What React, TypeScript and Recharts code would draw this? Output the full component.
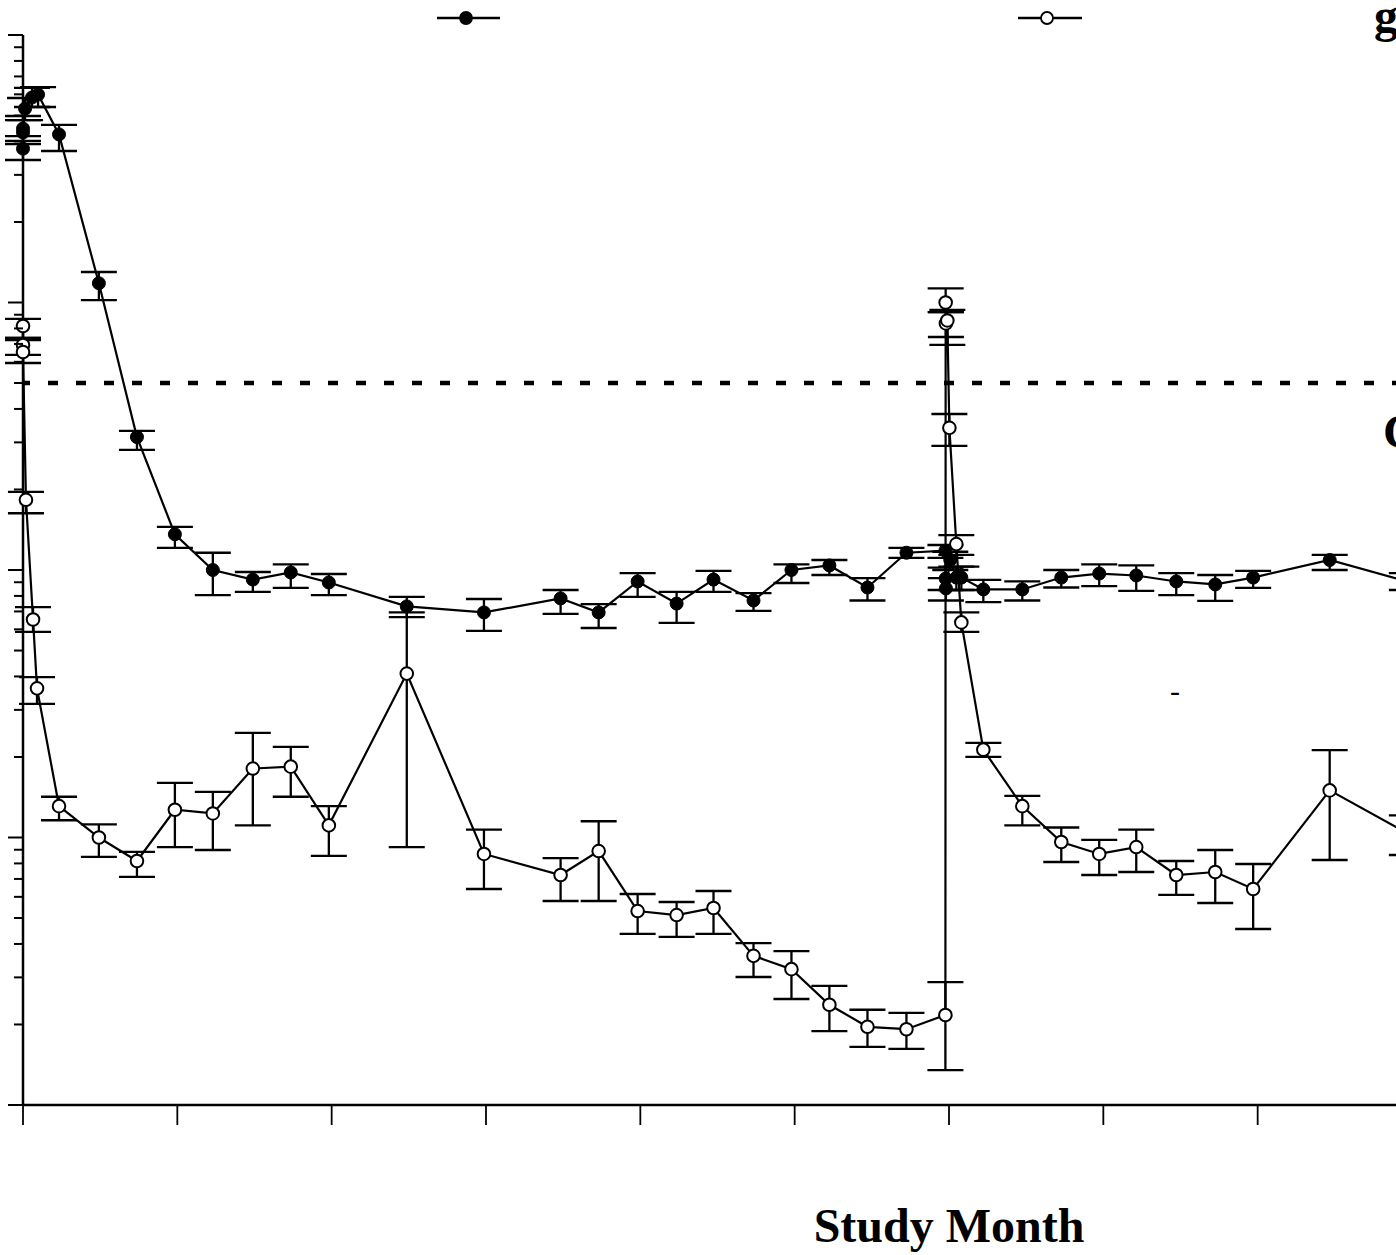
import React from 'react';
import { LineChart, Line, XAxis, YAxis, ErrorBar, ReferenceLine, Legend, Label } from 'recharts';

// ---- data (months, values, error-bar bounds) ----
const filledMonths = [0, 0, 0, 0.16, 0.7, 1.17, 2.8, 5.9, 8.86, 11.81, 14.76, 17.87, 20.82, 23.78, 29.84, 35.84, 41.8, 44.76, 47.79, 50.82, 53.69, 56.8, 59.75, 62.7, 65.66, 68.69, 71.72, 71.74, 71.76, 72.1, 72.57, 72.96, 74.67, 77.7, 80.73, 83.68, 86.56, 89.67, 92.7, 95.65, 101.6, 107.6];
const filledValues = [3760, 4320, 4470, 5310, 5840, 5990, 4250, 1180, 314, 136, 100, 92.1, 97.9, 89.8, 73.1, 69.4, 78.3, 69.4, 90.6, 74.9, 92.1, 76.9, 100, 104, 86.0, 116, 118, 92.9, 85.3, 109, 93.7, 93.7, 84.6, 84.6, 93.7, 97.0, 95.4, 90.6, 88.3, 93.7, 109, 90.6];
const filledLow = [3410, 3910, 4015, 4810, 5380, 5380, 3685, 1020, 281, 121, 80.6, 82.8, 85.7, 80.6, 66.7, 59.2, 68.5, 60.7, 79.3, 63.4, 82.8, 70.3, 89.4, 95.8, 76.9, 111, 111, 84.2, 76.9, 100, 84.2, 84.2, 75.9, 76.9, 86.0, 87.1, 83.5, 80.6, 76.6, 85.7, 100, 84.2];
const filledHigh = [4190, 4810, 4980, 5815, 6340, 6390, 4610, 1300, 331, 145, 116, 98.3, 105, 96.6, 79.3, 77.9, 84.2, 74.6, 97.4, 82.8, 99.2, 82.0, 105, 109, 93.3, 121, 124, 102, 93.3, 117, 103, 103, 91.8, 90.6, 100, 105, 104, 97.4, 95.8, 99.2, 114, 97.4];

const openMonths = [0, 0, 0, 0.23, 0.78, 1.09, 2.8, 5.9, 8.86, 11.81, 14.76, 17.87, 20.82, 23.78, 29.84, 35.84, 41.8, 44.76, 47.79, 50.82, 53.69, 56.8, 59.75, 62.7, 65.66, 68.69, 71.72, 71.74, 71.76, 71.87, 72.03, 72.57, 72.96, 74.67, 77.7, 80.73, 83.68, 86.56, 89.67, 92.7, 95.65, 101.6, 107.6];
const openValues = [817, 694, 653, 183, 65.3, 36.1, 13.1, 10.0, 8.17, 12.7, 12.3, 18.1, 18.4, 11.1, 41.0, 8.68, 7.24, 8.90, 5.31, 5.13, 5.45, 3.61, 3.22, 2.37, 1.96, 1.92, 2.17, 1000, 835, 857, 340, 125, 63.7, 21.3, 13.1, 9.62, 8.68, 9.21, 7.24, 7.43, 6.42, 15.0, 10.4];
const openLow = [737, 637, 594, 163, 58.7, 31.6, 11.6, 8.46, 7.12, 9.21, 8.98, 11.1, 14.2, 8.53, 9.21, 6.42, 5.79, 5.79, 4.36, 4.25, 4.36, 3.01, 2.49, 1.89, 1.65, 1.62, 1.35, 921, 743, 694, 291, 114, 58.7, 20.0, 11.1, 8.10, 7.24, 7.43, 6.10, 5.69, 4.55, 8.24, 8.6];
const openHigh = [868, 737, 724, 196, 72.7, 39.8, 14.2, 11.2, 8.83, 16.0, 14.8, 24.6, 21.8, 13.1, 69.4, 10.7, 8.38, 11.5, 6.15, 5.74, 6.31, 4.03, 3.76, 2.79, 2.27, 2.21, 2.88, 1130, 921, 938, 383, 135, 69.4, 22.6, 14.3, 10.9, 9.79, 10.7, 8.17, 8.98, 7.96, 21.2, 12.1];

const seriesNames = ['Filled', 'Open'];
const xTicks = [0, 12, 24, 36, 48, 60, 72, 84, 96, 108, 120, 132, 144];
const yMajorTicks = [1, 10, 100, 1000, 10000];
const yMinorSteps = [2, 3, 4, 5, 6, 7, 8, 9];
const cutoffValue = 500;
const xLabel = 'Study Month';

// ---- tables built from the arrays ----
const buildRows = (m: number[], v: number[], lo: number[], hi: number[]) =>
  m.map((month, i) => ({ month, value: v[i], err: [v[i] - lo[i], hi[i] - v[i]] }));

const filledRows = buildRows(filledMonths, filledValues, filledLow, filledHigh);
const openRows = buildRows(openMonths, openValues, openLow, openHigh);

const yTicks = [
  ...yMajorTicks,
  ...yMajorTicks.slice(0, -1).flatMap((b) => yMinorSteps.map((s) => b * s)),
].sort((a, b) => a - b);

const SERIF = "'Liberation Serif', 'Times New Roman', serif";

const YTick = (props: any) => {
  const { x, y, payload } = props;
  const major = yMajorTicks.includes(payload.value);
  const len = major ? 15 : 9;
  return <line x1={x - len} x2={x} y1={y} y2={y} stroke="#000" strokeWidth={2} />;
};

const LegendContent = () => {
  const items = [
    { x1: 437, x2: 500, cx: 466, fill: '#000' },
    { x1: 1018, x2: 1082, cx: 1047, fill: '#fff' },
  ];
  return (
    <svg width={1396} height={36} style={{ display: 'block' }}>
      {items.map((it, i) => (
        <g key={seriesNames[i]}>
          <line x1={it.x1} x2={it.x2} y1={18} y2={18} stroke="#000" strokeWidth={2.5} />
          <circle cx={it.cx} cy={18} r={6} fill={it.fill} stroke="#000" strokeWidth={1.8} />
        </g>
      ))}
    </svg>
  );
};

export default function App() {
  return (
    <div style={{ position: 'absolute', left: 0, top: 0, width: 1396, height: 1255, overflow: 'hidden', background: '#fff' }}>
      <LineChart width={1900} height={1255} margin={{ top: 35, right: 25, bottom: 0, left: 0 }}>
        <XAxis
          type="number"
          dataKey="month"
          domain={[0, 144]}
          ticks={xTicks}
          interval={0}
          height={150}
          tickSize={20}
          tick={() => <g />}
          axisLine={{ stroke: '#000', strokeWidth: 2.5 }}
          tickLine={{ stroke: '#000', strokeWidth: 1.8 }}
        >
          <Label
            value={xLabel}
            position="insideBottom"
            offset={13}
            fontFamily={SERIF}
            fontWeight="bold"
            fontSize={48}
            fill="#000"
          />
        </XAxis>
        <YAxis
          type="number"
          scale="log"
          domain={[1, 10000]}
          ticks={yTicks}
          interval={0}
          width={23}
          tickSize={0}
          tickMargin={0}
          tick={YTick}
          tickLine={false}
          axisLine={{ stroke: '#000', strokeWidth: 2.5 }}
        />
        <ReferenceLine y={cutoffValue} stroke="#000" strokeWidth={4.5} strokeDasharray="10 18" strokeDashoffset={3} />
        <Legend verticalAlign="middle" align="center" layout="horizontal" wrapperStyle={{ top: 0, left: 0, width: 1396, height: 36 }} content={LegendContent} />
        <Line
          name={seriesNames[0]}
          data={filledRows}
          dataKey="value"
          type="linear"
          stroke="#000"
          strokeWidth={2.2}
          dot={{ r: 6.5, fill: '#000', stroke: '#000', strokeWidth: 1 }}
          isAnimationActive={false}
        >
          <ErrorBar dataKey="err" width={18} stroke="#000" strokeWidth={2.3} direction="y" isAnimationActive={false} />
        </Line>
        <Line
          name={seriesNames[1]}
          data={openRows}
          dataKey="value"
          type="linear"
          stroke="#000"
          strokeWidth={2.2}
          dot={{ r: 6.3, fill: '#fff', stroke: '#000', strokeWidth: 2 }}
          isAnimationActive={false}
        >
          <ErrorBar dataKey="err" width={18} stroke="#000" strokeWidth={2.3} direction="y" isAnimationActive={false} />
        </Line>
      </LineChart>
      <svg width={1396} height={1255} style={{ position: 'absolute', left: 0, top: 0, pointerEvents: 'none' }}>
        <text x={1374} y={32} fontFamily={SERIF} fontWeight="bold" fontSize={48} fill="#000">g</text>
        <text x={1383} y={448} fontFamily={SERIF} fontWeight="bold" fontSize={48} fill="#000">C</text>
        <text x={1170} y={701} fontFamily={SERIF} fontSize={30} fill="#000">-</text>
      </svg>
    </div>
  );
}
